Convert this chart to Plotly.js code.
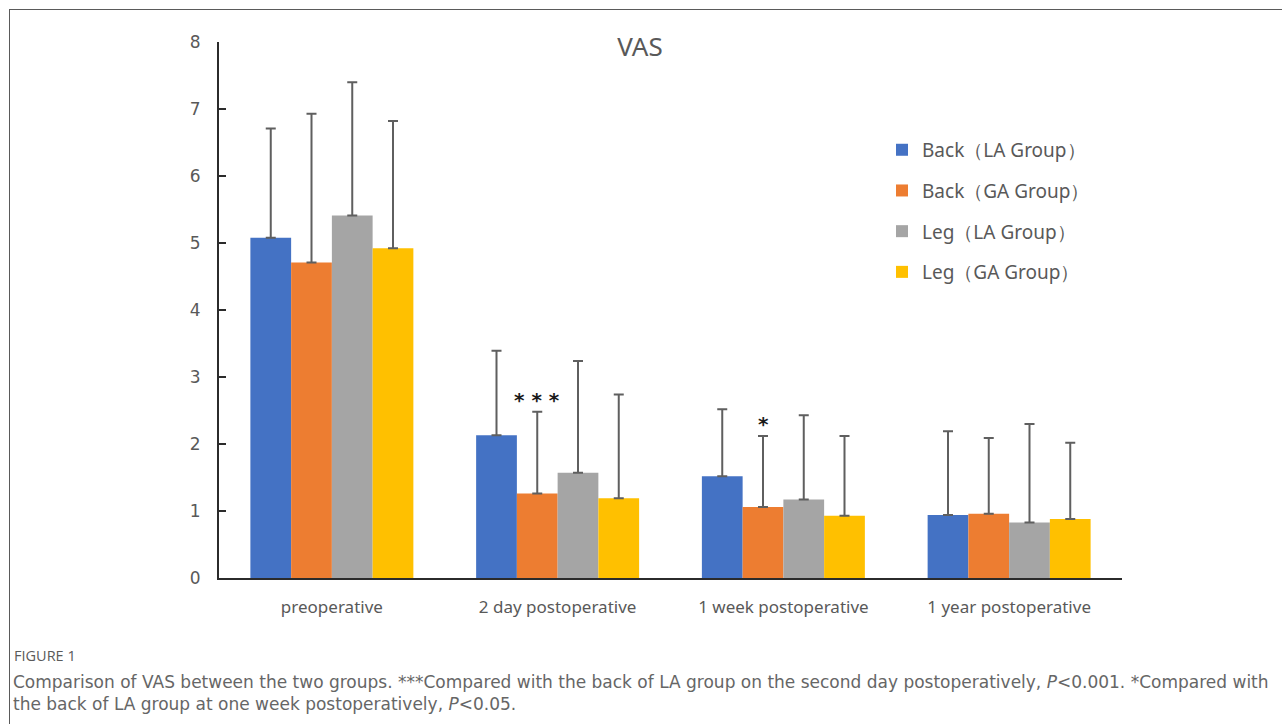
<!DOCTYPE html>
<html>
<head>
<meta charset="utf-8">
<script src="https://cdn.plot.ly/plotly-3.0.1.min.js"></script>
<style>
  html, body { margin: 0; padding: 0; background: #ffffff; }
  #wrap { position: relative; width: 1282px; height: 724px; overflow: hidden; }
  #chart { position: absolute; left: 0; top: 0; width: 1282px; height: 724px; }
  #frame { position: absolute; left: 9px; top: 9px; right: -2px; bottom: -2px;
           border-left: 1px solid #5a5a5a; border-top: 1px solid #5a5a5a; pointer-events: none; }
</style>
</head>
<body>
<div id="wrap">
  <div id="chart"></div>
  <div id="frame"></div>
</div>
<script>
// Time points on the x axis
const timepoints = ['preoperative', '2 day postoperative', '1 week postoperative', '1 year postoperative'];

// Mean VAS scores per group
const backLA = [5.08, 2.13, 1.52, 0.94];
const backGA = [4.71, 1.26, 1.06, 0.96];
const legLA  = [5.41, 1.57, 1.17, 0.83];
const legGA  = [4.92, 1.19, 0.93, 0.88];

// Standard deviations (drawn upward only)
const backLA_sd = [1.63, 1.26, 1.00, 1.25];
const backGA_sd = [2.22, 1.22, 1.06, 1.13];
const legLA_sd  = [1.99, 1.67, 1.26, 1.47];
const legGA_sd  = [1.90, 1.55, 1.19, 1.14];

// Series names
const seriesNames = ['Back（LA Group）', 'Back（GA Group）', 'Leg（LA Group）', 'Leg（GA Group）'];

// Significance marks on the Back (GA) bars
const sigMarks = [
  { index: 1, text: '* * *' },
  { index: 2, text: '*' }
];

const colors = ['#4472C4', '#ED7D31', '#A5A5A5', '#FFC000'];
const means = [backLA, backGA, legLA, legGA];
const sds = [backLA_sd, backGA_sd, legLA_sd, legGA_sd];

const W = 1282, H = 724;
const M = { l: 219, r: 160, t: 42, b: 145.5 };
const plotW = W - M.l - M.r, plotH = H - M.t - M.b;
const pxX = px => (px - M.l) / plotW;
const pxY = py => (H - M.b - py) / plotH;

const BARGAP = 0.278;
const nSeries = means.length;
const barW = (1 - BARGAP) / nSeries;

const traces = means.map((vals, i) => ({
  type: 'bar',
  name: seriesNames[i],
  x: timepoints,
  y: vals,
  marker: { color: colors[i], line: { width: 0 } },
  legendgroup: 'g' + i,
  error_y: {
    type: 'data', symmetric: false,
    array: sds[i], arrayminus: vals.map(() => 0),
    color: '#5f5f5f', thickness: 2, width: 5
  },
  hoverinfo: 'x+y+name'
}));

const annotations = [];

// significance stars over the Back (GA) bars
sigMarks.forEach(m => {
  const s = 1; // Back (GA) series
  const xPos = m.index - (1 - BARGAP) / 2 + barW * (s + 0.5);
  annotations.push({
    xref: 'x', yref: 'y', x: xPos, y: means[s][m.index] + sds[s][m.index],
    text: m.text, showarrow: false, yanchor: 'bottom', yshift: -2,
    font: { family: 'DejaVu Sans, sans-serif', size: 20, color: '#1a1a1a', weight: 'bold' }
  });
});

// caption
annotations.push({
  xref: 'paper', yref: 'paper', x: pxX(12), y: pxY(656),
  xanchor: 'left', yanchor: 'middle', showarrow: false,
  text: 'FIGURE 1',
  font: { family: 'Open Sans, sans-serif', size: 14.5, color: '#5a5a5a' }
});
annotations.push({
  xref: 'paper', yref: 'paper', x: pxX(11), y: pxY(683),
  xanchor: 'left', yanchor: 'middle', showarrow: false,
  text: 'Comparison of VAS between the two groups. ***Compared with the back of LA group on the second day postoperatively, <i>P</i>&lt;0.001. *Compared with',
  font: { family: 'DejaVu Sans, sans-serif', size: 17, color: '#666666' }
});
annotations.push({
  xref: 'paper', yref: 'paper', x: pxX(11), y: pxY(705),
  xanchor: 'left', yanchor: 'middle', showarrow: false,
  text: 'the back of LA group at one week postoperatively, <i>P</i>&lt;0.05.',
  font: { family: 'DejaVu Sans, sans-serif', size: 17, color: '#666666' }
});

const layout = {
  width: W, height: H,
  margin: M,
  paper_bgcolor: 'rgba(0,0,0,0)',
  plot_bgcolor: 'rgba(0,0,0,0)',
  barmode: 'group',
  bargap: BARGAP,
  bargroupgap: 0,
  showlegend: true,
  title: {
    text: 'VAS',
    xref: 'container', yref: 'container',
    x: 640 / W, y: 1 - 47 / H, xanchor: 'center', yanchor: 'middle',
    font: { family: 'Noto Sans, sans-serif', size: 26, color: '#595959' }
  },
  xaxis: {
    type: 'category',
    showline: true, linecolor: '#2b2b2b', linewidth: 2,
    ticks: '', showgrid: false, zeroline: false,
    tickfont: { family: 'Noto Sans, sans-serif', size: 17, color: '#595959' },
    ticklabelstandoff: 13
  },
  yaxis: {
    range: [0, 8], dtick: 1,
    showline: true, linecolor: '#2b2b2b', linewidth: 2,
    ticks: 'inside', ticklen: 7, tickwidth: 1.5, tickcolor: '#2b2b2b',
    showgrid: false, zeroline: false,
    tickfont: { family: 'DejaVu Sans, sans-serif', size: 17, color: '#595959' },
    ticklabelstandoff: 13
  },
  legend: {
    x: pxX(882), y: pxY(131), xanchor: 'left', yanchor: 'top',
    bgcolor: 'rgba(0,0,0,0)',
    font: { family: 'Noto Sans, sans-serif', size: 19, color: '#595959' },
    tracegroupgap: 13,
    traceorder: 'grouped'
  },
  annotations: annotations
};

Plotly.newPlot('chart', traces, layout, { displayModeBar: false, staticPlot: true });
</script>
</body>
</html>
